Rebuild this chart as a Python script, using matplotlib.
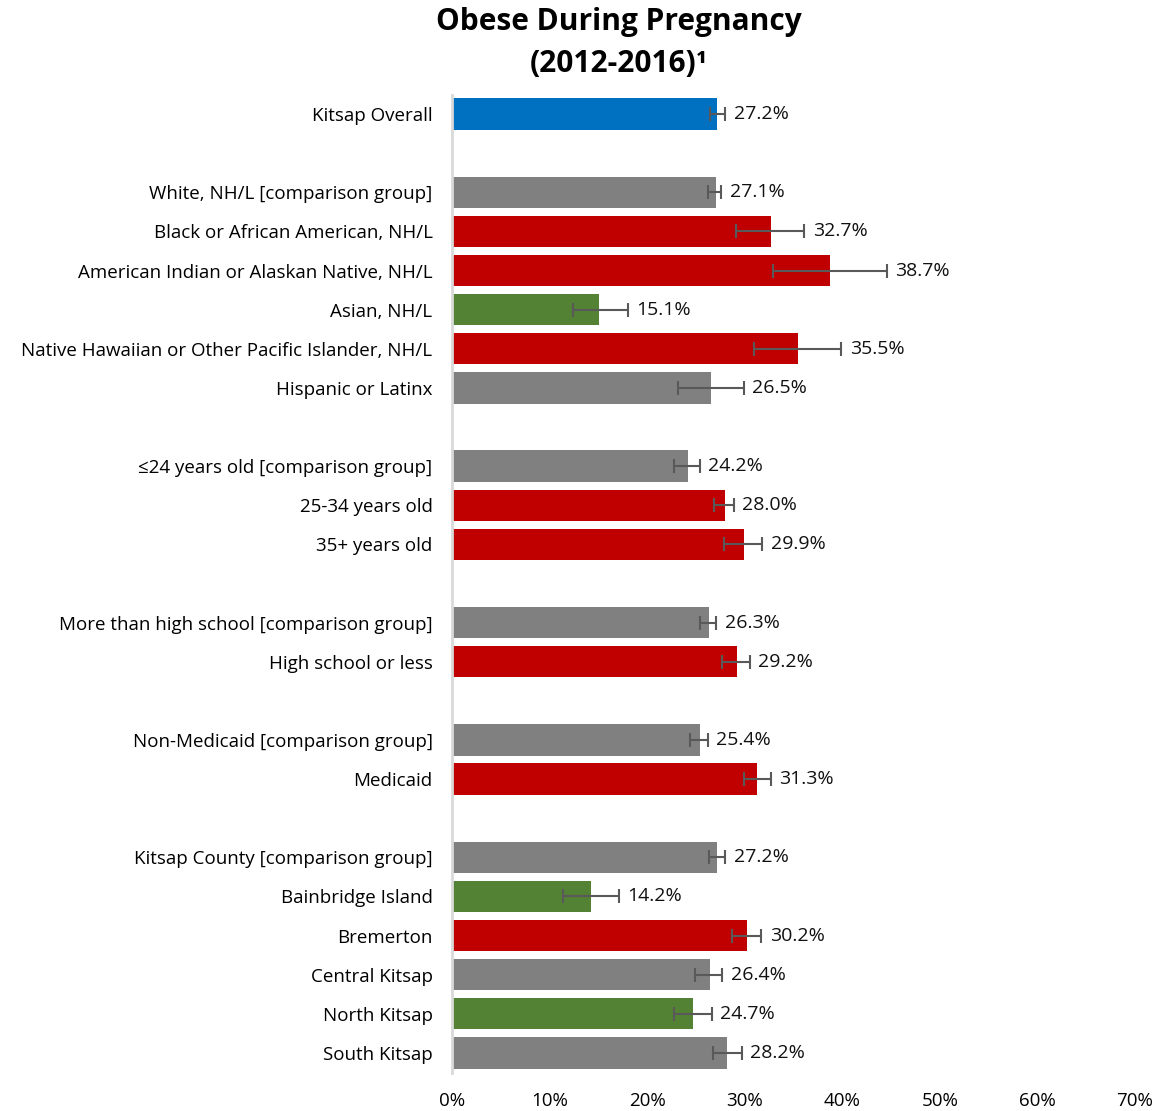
import matplotlib.pyplot as plt
import numpy as np

plt.rcParams['font.family'] = ['Open Sans', 'DejaVu Sans']

# None marks an empty row between groups
labels = [
    "Kitsap Overall", None,
    "White, NH/L [comparison group]",
    "Black or African American, NH/L",
    "American Indian or Alaskan Native, NH/L",
    "Asian, NH/L",
    "Native Hawaiian or Other Pacific Islander, NH/L",
    "Hispanic or Latinx", None,
    "\u226424 years old [comparison group]",
    "25-34 years old",
    "35+ years old", None,
    "More than high school [comparison group]",
    "High school or less", None,
    "Non-Medicaid [comparison group]",
    "Medicaid", None,
    "Kitsap County [comparison group]",
    "Bainbridge Island",
    "Bremerton",
    "Central Kitsap",
    "North Kitsap",
    "South Kitsap",
]
values = [27.2, None, 27.1, 32.7, 38.7, 15.1, 35.5, 26.5, None,
          24.2, 28.0, 29.9, None, 26.3, 29.2, None, 25.4, 31.3, None,
          27.2, 14.2, 30.2, 26.4, 24.7, 28.2]
ci_low = [26.4, None, 26.2, 29.1, 32.9, 12.4, 31.0, 23.2, None,
          22.8, 26.9, 27.9, None, 25.4, 27.7, None, 24.4, 29.9, None,
          26.3, 11.4, 28.7, 24.9, 22.8, 26.7]
ci_high = [28.0, None, 27.6, 36.1, 44.6, 18.0, 39.9, 29.9, None,
           25.4, 28.9, 31.8, None, 27.1, 30.5, None, 26.2, 32.7, None,
           28.0, 17.1, 31.7, 27.7, 26.6, 29.7]
# o = overall, c = comparison / no difference, h = higher, l = lower
status = ["o", None, "c", "h", "h", "l", "h", "c", None,
          "c", "h", "h", None, "c", "h", None, "c", "h", None,
          "c", "l", "h", "c", "l", "c"]

COLORS = {"o": "#0070C0", "c": "#808080", "h": "#C00000", "l": "#548235"}

fig = plt.figure(figsize=(11.57, 11.11), dpi=100)
ax = fig.add_axes([452 / 1157, 1 - 1072.5 / 1111, 683 / 1157, 978 / 1111])

n = len(labels)
for i in range(n):
    if values[i] is None:
        continue
    ax.barh(i, values[i], height=0.8, color=COLORS[status[i]])
    v = values[i]
    ax.errorbar(v, i, xerr=[[v - ci_low[i]], [ci_high[i] - v]], fmt="none",
                ecolor="#595959", elinewidth=1.5, capsize=5, capthick=1.5)
    ax.annotate(f"{v:.1f}%", xy=(ci_high[i], i), xytext=(6, 0),
                textcoords="offset points", va="center", ha="left",
                fontsize=14, color="#111111")

ax.set_yticks([i for i in range(n) if labels[i] is not None])
ax.set_yticklabels([l for l in labels if l is not None], fontsize=13.5)
ax.set_ylim(n - 0.5, -0.5)
ax.set_xlim(0, 70)
ax.set_xticks(np.arange(0, 71, 10))
ax.set_xticklabels([f"{t}%" for t in range(0, 71, 10)], fontsize=13.5)
ax.tick_params(axis="both", length=0)
ax.tick_params(axis="x", pad=14)
ax.tick_params(axis="y", pad=14)
for s in ["top", "right", "bottom"]:
    ax.spines[s].set_visible(False)
ax.spines["left"].set_color("#D9D9D9")
ax.spines["left"].set_linewidth(2)

fig.text(0.535, 1 - 22 / 1111, "Obese During Pregnancy", ha="center",
         va="center", fontsize=21.5, fontweight="bold")
fig.text(0.535, 1 - 64 / 1111, "(2012-2016)\u00b9", ha="center",
         va="center", fontsize=21.5, fontweight="bold")

fig.savefig("out.png", dpi=100)
